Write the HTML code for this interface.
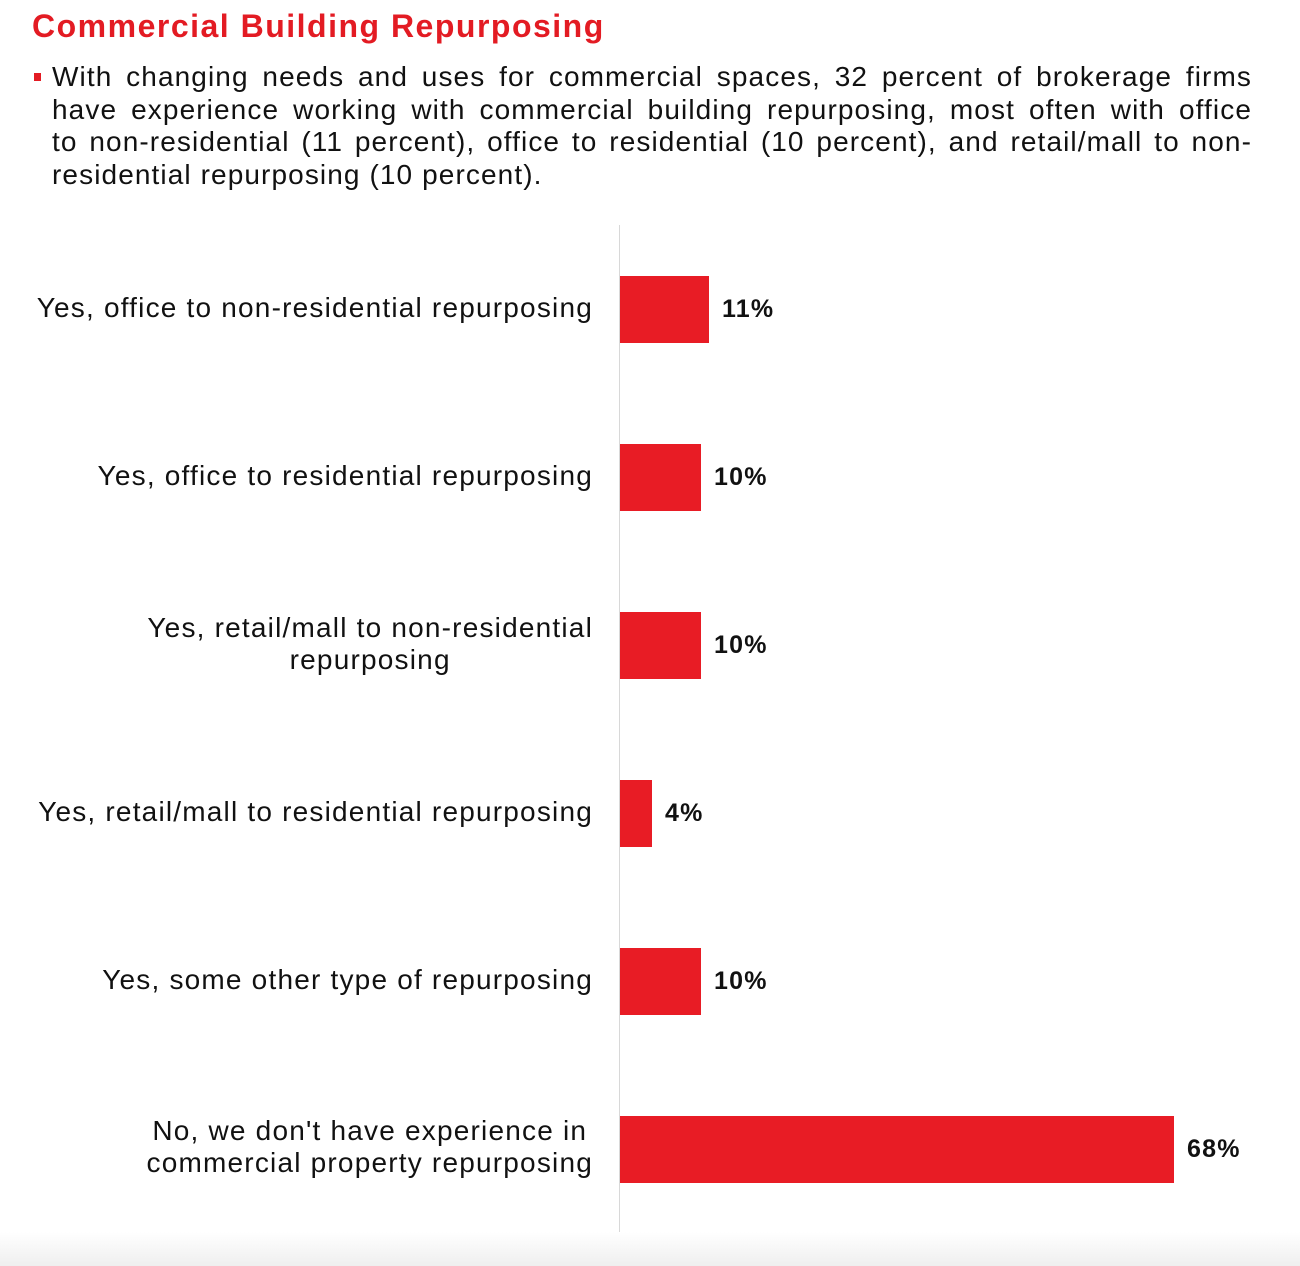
<!DOCTYPE html>
<html><head><meta charset="utf-8"><style>
body{margin:0;width:1300px;height:1266px;position:relative;background:#fff;font-family:"Liberation Sans",sans-serif;overflow:hidden}
.t{position:absolute;white-space:nowrap}
#title{left:32px;top:8px;font-size:32px;font-weight:bold;color:#e31b23;letter-spacing:1.5px}
#para{position:absolute;left:52px;top:61px;width:1200px;font-size:28px;line-height:32.5px;color:#111;letter-spacing:1.1px}
#para div{text-align:justify;text-align-last:justify;white-space:nowrap}
#para div.last{text-align-last:left}
#bul{position:absolute;left:34px;top:73px;width:7px;height:8px;background:#e31b23}
.lab{position:absolute;right:707px;font-size:28px;line-height:32px;text-align:center;color:#111;letter-spacing:1.2px;white-space:nowrap}
.bar{position:absolute;left:620px;height:67px;background:#e81c25}
.val{position:absolute;font-size:25px;font-weight:bold;color:#111;line-height:30px;letter-spacing:1.2px}
#axis{position:absolute;left:619px;top:225px;width:1px;height:1007px;background:#d8d8d8}
#foot{position:absolute;left:0;top:1232px;width:1300px;height:34px;background:linear-gradient(#fff,#efefef)}
</style></head><body>
<div class="t" id="title">Commercial Building Repurposing</div>
<div id="bul"></div>
<div id="para">
<div>With changing needs and uses for commercial spaces, 32 percent of brokerage firms</div>
<div>have experience working with commercial building repurposing, most often with office</div>
<div>to non-residential (11 percent), office to residential (10 percent), and retail/mall to non-</div>
<div class="last">residential repurposing (10 percent).</div>
</div>
<div id="axis"></div>
<div id="foot"></div>

<div class="lab" style="top:292px">Yes, office to non-residential repurposing</div>
<div class="bar" style="top:276px;width:89px"></div>
<div class="val" style="top:294px;left:722px">11%</div>

<div class="lab" style="top:460px">Yes, office to residential repurposing</div>
<div class="bar" style="top:444px;width:81px"></div>
<div class="val" style="top:462px;left:714px">10%</div>

<div class="lab" style="top:612px">Yes, retail/mall to non-residential<br>repurposing</div>
<div class="bar" style="top:612px;width:81px"></div>
<div class="val" style="top:630px;left:714px">10%</div>

<div class="lab" style="top:796px">Yes, retail/mall to residential repurposing</div>
<div class="bar" style="top:780px;width:32px"></div>
<div class="val" style="top:798px;left:665px">4%</div>

<div class="lab" style="top:964px">Yes, some other type of repurposing</div>
<div class="bar" style="top:948px;width:81px"></div>
<div class="val" style="top:966px;left:714px">10%</div>

<div class="lab" style="top:1115px">No, we don't have experience in<br>commercial property repurposing</div>
<div class="bar" style="top:1116px;width:554px"></div>
<div class="val" style="top:1134px;left:1187px">68%</div>
</body></html>
